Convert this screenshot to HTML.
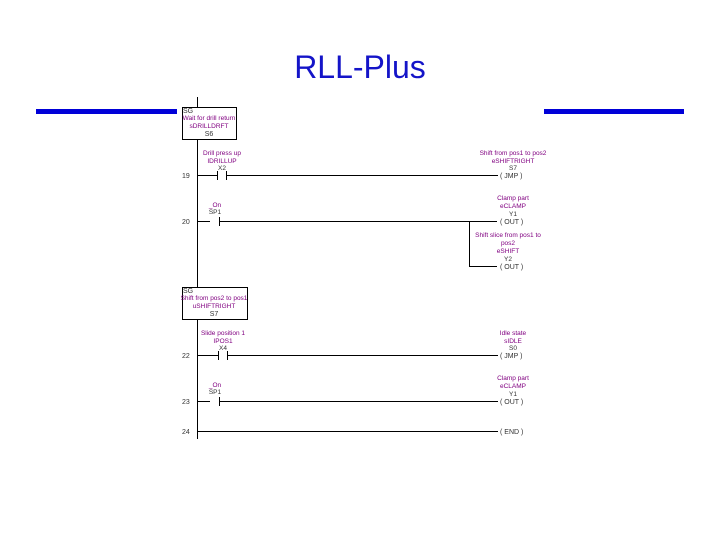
<!DOCTYPE html>
<html><head><meta charset="utf-8"><style>
html,body{margin:0;padding:0;background:#fff;width:720px;height:540px;overflow:hidden}
.t{font-family:"Liberation Sans",sans-serif}
</style></head><body>
<svg width="720" height="540" xmlns="http://www.w3.org/2000/svg">
<text x="360" y="78" text-anchor="middle" class="t" font-size="32" fill="#1414c8">RLL-Plus</text>
<rect x="36" y="109" width="141" height="5" fill="#0000d8"/>
<rect x="544" y="109" width="140" height="5" fill="#0000d8"/>
<g stroke="#000" stroke-width="1" fill="none">
<line x1="197.5" y1="97" x2="197.5" y2="107"/>
<rect x="182.5" y="107.5" width="54" height="32"/>
<line x1="197.5" y1="139" x2="197.5" y2="287"/>
<rect x="182.5" y="287.5" width="65" height="32"/>
<line x1="197.5" y1="319" x2="197.5" y2="439"/>
<line x1="197" y1="175.5" x2="217" y2="175.5"/>
<line x1="217.5" y1="171" x2="217.5" y2="180"/>
<line x1="226.5" y1="171" x2="226.5" y2="180"/>
<line x1="227" y1="175.5" x2="498" y2="175.5"/>
<line x1="197" y1="221.5" x2="210" y2="221.5"/>
<line x1="219.5" y1="217" x2="219.5" y2="226"/>
<line x1="220" y1="221.5" x2="497" y2="221.5"/>
<line x1="469.5" y1="221" x2="469.5" y2="266"/>
<line x1="469" y1="266.5" x2="497" y2="266.5"/>
<line x1="197" y1="355.5" x2="218" y2="355.5"/>
<line x1="218.5" y1="351" x2="218.5" y2="360"/>
<line x1="227.5" y1="351" x2="227.5" y2="360"/>
<line x1="228" y1="355.5" x2="498" y2="355.5"/>
<line x1="197" y1="401.5" x2="210" y2="401.5"/>
<line x1="219.5" y1="397" x2="219.5" y2="406"/>
<line x1="220" y1="401.5" x2="498" y2="401.5"/>
<line x1="197" y1="431.5" x2="498" y2="431.5"/>
</g>
<g class="t" font-size="7" fill="#333">
<text x="182" y="178">19</text><text x="182" y="224">20</text>
<text x="182" y="358">22</text><text x="182" y="404">23</text><text x="182" y="434">24</text>
<text x="500" y="178">( JMP )</text>
<text x="500" y="224">( OUT )</text>
<text x="500" y="269">( OUT )</text>
<text x="500" y="358">( JMP )</text>
<text x="500" y="404">( OUT )</text>
<text x="500" y="434">( END )</text>
<text x="183" y="113">SG</text><text x="183" y="293">SG</text>
<text x="209" y="136" text-anchor="middle">S6</text>
<text x="214" y="316" text-anchor="middle">S7</text>
</g>
<g class="t" font-size="6.5" fill="#800080" text-anchor="middle">
<text x="209" y="120">Wait for drill return</text>
<text x="209" y="128">sDRILLDRFT</text>
<text x="214" y="300">Shift from pos2 to pos1</text>
<text x="214" y="308">uSHIFTRIGHT</text>
<text x="222" y="155">Drill press up</text>
<text x="222" y="163">IDRILLUP</text>
<text x="222" y="170" fill="#333">X2</text>
<text x="215" y="207">_On</text>
<text x="215" y="214" fill="#333">SP1</text>
<text x="513" y="155">Shift from pos1 to pos2</text>
<text x="513" y="163">eSHIFTRIGHT</text>
<text x="513" y="170" fill="#333">S7</text>
<text x="513" y="200">Clamp part</text>
<text x="513" y="208">eCLAMP</text>
<text x="513" y="216" fill="#333">Y1</text>
<text x="508" y="237">Shift slice from pos1 to</text>
<text x="508" y="245">pos2</text>
<text x="508" y="253">eSHIFT</text>
<text x="508" y="261" fill="#333">Y2</text>
<text x="223" y="335">Slide position 1</text>
<text x="223" y="343">IPOS1</text>
<text x="223" y="350" fill="#333">X4</text>
<text x="215" y="387">_On</text>
<text x="215" y="394" fill="#333">SP1</text>
<text x="513" y="335">Idle state</text>
<text x="513" y="343">sIDLE</text>
<text x="513" y="350" fill="#333">S0</text>
<text x="513" y="380">Clamp part</text>
<text x="513" y="388">eCLAMP</text>
<text x="513" y="396" fill="#333">Y1</text>
</g>
</svg>
</body></html>
